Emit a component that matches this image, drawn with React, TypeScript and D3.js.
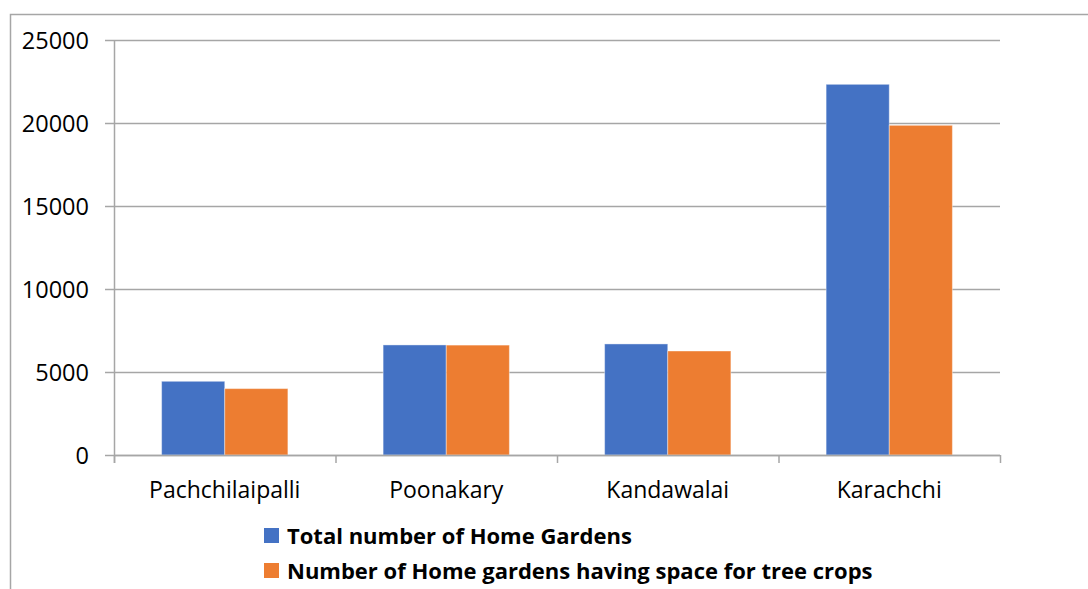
import * as d3 from 'd3';
import React from 'react';

const categories = ['Pachchilaipalli', 'Poonakary', 'Kandawalai', 'Karachchi'];
const seriesNames = [
  'Total number of Home Gardens',
  'Number of Home gardens having space for tree crops',
];
const totalGardens = [4440, 6630, 6690, 22330];
const treeCropGardens = [4000, 6620, 6265, 19860];
const yTickValues = [0, 5000, 10000, 15000, 20000, 25000];
const colors = ['#4472C4', '#ED7D31'];

const width = 1088;
const height = 589;
const plot = { left: 114, right: 1000, top: 40, bottom: 455 };
const font = "'Open Sans', sans-serif";

const App: React.FC = () => {
  const series = [totalGardens, treeCropGardens];

  const xScale = d3
    .scaleBand<string>()
    .domain(categories)
    .range([plot.left, plot.right])
    .padding(0);

  const groupWidth = xScale.bandwidth() * 0.57;
  const subScale = d3
    .scaleBand<number>()
    .domain(series.map((_, i) => i))
    .range([0, groupWidth])
    .padding(0);

  const yScale = d3.scaleLinear().domain([0, 25000]).range([plot.bottom, plot.top]);

  const boundaries = categories.map((c) => xScale(c) as number).concat(plot.right);

  return (
    <div style={{ position: 'absolute', left: 0, top: 0 }}>
      <svg width={width} height={height} style={{ display: 'block', background: '#fff' }}>
        <rect x={10.5} y={14.5} width={1200} height={700} fill="#fff" stroke="#a6a6a6" strokeWidth={1.5} />

        {/* gridlines + y ticks */}
        {yTickValues.map((t) => (
          <g key={`y-${t}`} transform={`translate(0,${Math.round(yScale(t)) + 0.5})`}>
            <line x1={105} x2={plot.right} stroke="#a6a6a6" strokeWidth={1.5} />
            <text x={89} dy="0.36em" textAnchor="end" fontSize={23.5} fontFamily={font} fill="#000">
              {t}
            </text>
          </g>
        ))}

        {/* bars */}
        {categories.map((c, ci) => {
          const x0 = (xScale(c) as number) + (xScale.bandwidth() - groupWidth) / 2;
          return (
            <g key={c}>
              {series.map((s, si) => (
                <rect
                  key={si}
                  x={x0 + (subScale(si) as number)}
                  y={yScale(s[ci])}
                  width={subScale.bandwidth()}
                  height={plot.bottom - yScale(s[ci])}
                  fill={colors[si]}
                  stroke="#fff"
                  strokeOpacity={0.4}
                  strokeWidth={1}
                />
              ))}
            </g>
          );
        })}

        {/* axes */}
        <line x1={plot.left + 0.5} x2={plot.left + 0.5} y1={plot.top} y2={plot.bottom + 8} stroke="#a6a6a6" strokeWidth={1.5} />
        <line x1={plot.left} x2={plot.right} y1={plot.bottom + 0.5} y2={plot.bottom + 0.5} stroke="#a6a6a6" strokeWidth={1.5} />
        {boundaries.map((bx, i) => (
          <line key={`xt-${i}`} x1={bx + 0.5} x2={bx + 0.5} y1={plot.bottom} y2={plot.bottom + 8} stroke="#a6a6a6" strokeWidth={1.5} />
        ))}
        {categories.map((c) => (
          <text
            key={`xl-${c}`}
            x={(xScale(c) as number) + xScale.bandwidth() / 2}
            y={498}
            textAnchor="middle"
            fontSize={23}
            fontFamily={font}
            fill="#000"
          >
            {c}
          </text>
        ))}

        {/* legend */}
        {seriesNames.map((name, i) => (
          <g key={name} transform={`translate(264,${528 + i * 35})`}>
            <rect width={15} height={15} fill={colors[i]} />
            <text x={23} y={16} fontSize={22} fontWeight="bold" fontFamily={font} fill="#000">
              {name}
            </text>
          </g>
        ))}
      </svg>
    </div>
  );
};

export default App;
